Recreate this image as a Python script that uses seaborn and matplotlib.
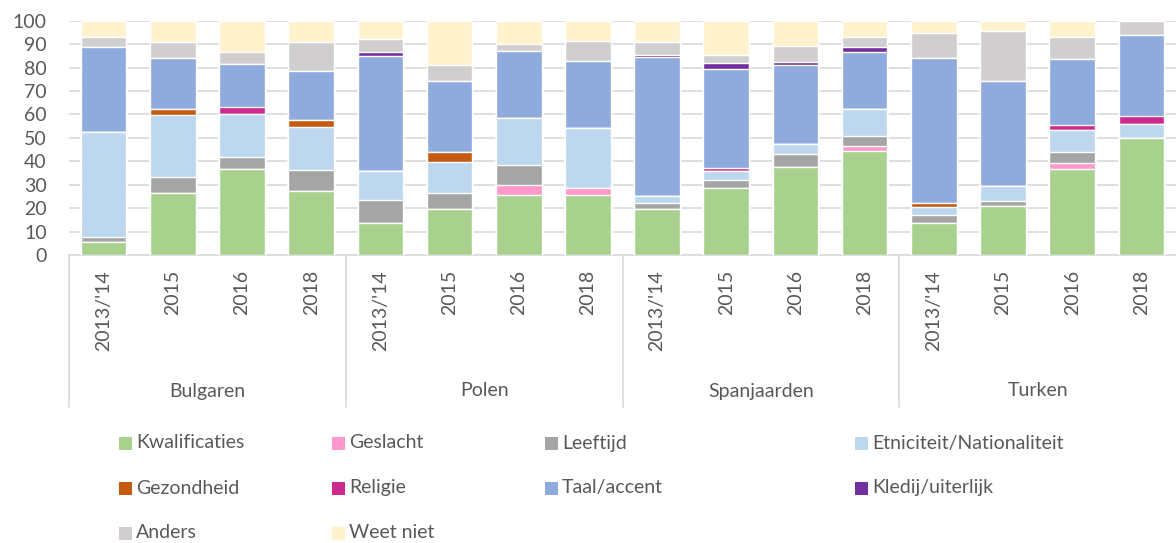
import numpy as np
import pandas as pd
import matplotlib
matplotlib.use('Agg')
import matplotlib.pyplot as plt
import matplotlib.transforms as mtransforms
from matplotlib.patches import Rectangle
import seaborn as sns

#%% data (percentages per bar)
groups = ['Bulgaren', 'Polen', 'Spanjaarden', 'Turken']
years = ["2013/'14", '2015', '2016', '2018']

categories = ['Kwalificaties', 'Geslacht', 'Leeftijd', 'Etniciteit/Nationaliteit',
              'Gezondheid', 'Religie', 'Taal/accent', 'Kledij/uiterlijk',
              'Anders', 'Weet niet']
colors = ['#A9D18E', '#FF99CC', '#A5A5A5', '#BDD7EE',
          '#C55A11', '#CC2A8E', '#8FAADC', '#7030A0',
          '#D0CECE', '#FFF2CC']

#                Bulgaren              Polen                  Spanjaarden            Turken
kwalificaties = [5.4, 26.5, 36.6, 27.2, 13.8, 19.6, 25.5, 25.5, 19.6, 28.7, 37.7, 44.2, 13.7, 21.1, 36.8, 49.8]
geslacht      = [0.0, 0.0, 0.0, 0.0,    0.0, 0.0, 4.4, 2.9,     0.0, 0.0, 0.0, 2.3,     0.0, 0.0, 2.3, 0.0]
leeftijd      = [2.4, 6.6, 5.4, 8.9,    9.5, 7.0, 8.5, 0.0,     2.7, 3.4, 5.3, 4.3,     3.5, 1.9, 4.9, 0.0]
etniciteit    = [44.8, 26.6, 18.3, 18.4, 12.4, 13.2, 20.2, 25.9, 2.9, 3.9, 4.2, 11.4,   3.4, 6.6, 9.3, 6.2]
gezondheid    = [0.0, 2.5, 0.0, 3.0,    0.0, 4.0, 0.0, 0.0,     0.0, 0.0, 0.0, 0.0,     1.7, 0.0, 0.0, 0.0]
religie       = [0.0, 0.0, 2.7, 0.0,    0.0, 0.0, 0.0, 0.0,     0.0, 1.3, 0.0, 0.0,     0.0, 0.0, 2.2, 3.2]
taal          = [36.3, 22.0, 18.4, 21.2, 49.4, 30.6, 28.6, 28.5, 59.4, 42.2, 34.0, 24.3, 61.9, 44.8, 28.0, 34.5]
kledij        = [0.0, 0.0, 0.0, 0.0,    1.7, 0.0, 0.0, 0.0,     0.9, 2.3, 1.3, 2.1,     0.0, 0.0, 0.0, 0.0]
anders        = [4.1, 6.8, 5.4, 12.1,   5.2, 6.8, 2.8, 8.7,     5.5, 3.5, 6.8, 4.4,     10.4, 21.3, 9.5, 6.3]
weet_niet     = [7.0, 9.0, 13.2, 9.2,   8.0, 18.8, 10.0, 8.5,   9.0, 14.7, 10.7, 7.0,   5.4, 4.3, 7.0, 0.0]

series = [kwalificaties, geslacht, leeftijd, etniciteit, gezondheid,
          religie, taal, kledij, anders, weet_niet]

bar_ids = [f'{g} {y}' for g in groups for y in years]
df = pd.DataFrame(dict(zip(categories, series)))
cum = df.cumsum(axis=1)
cum['bar'] = bar_ids

#%% style
sns.set_style('white')
plt.rcParams['font.family'] = ['Lato', 'DejaVu Sans']
txt_col = '#595959'
grid_col = '#D9D9D9'
fs = 14

fig = plt.figure(figsize=(11.76, 5.43), dpi=100)
H = 543.0
W = 1176.0
ax = fig.add_axes([69 / W, 1 - 255 / H, (1176 - 69) / W, (255 - 20.7) / H])

# stacked bars: draw cumulative totals from the top category down
for cat, col in reversed(list(zip(categories, colors))):
    sns.barplot(data=cum, x='bar', y=cat, order=bar_ids, color=col,
                saturation=1, width=0.66, ax=ax, zorder=3)

ax.set_xlim(-0.5, 15.5)
ax.set_ylim(0, 100)
ax.set_yticks(np.arange(0, 101, 10))
ax.yaxis.grid(True, color=grid_col, lw=1.2)
ax.set_axisbelow(True)
for s in ['left', 'top', 'right']:
    ax.spines[s].set_visible(False)
ax.spines['bottom'].set_color(grid_col)
ax.spines['bottom'].set_linewidth(1.2)
ax.tick_params(axis='y', length=0, labelcolor=txt_col, labelsize=fs, pad=16)
ax.tick_params(axis='x', length=0)
ax.set_xticklabels([])
ax.set_xlabel('')
ax.set_ylabel('')

# multi-level category axis
trans = mtransforms.blended_transform_factory(ax.transData, ax.transAxes)
y_year = (255 - 270) / (255 - 20.7)
y_group = (255 - 391) / (255 - 20.7)
y_sep = (255 - 407) / (255 - 20.7)
for i, lab in enumerate(bar_ids):
    ax.text(i, y_year, years[i % 4], rotation=90, ha='center', va='top',
            transform=trans, fontsize=fs, color=txt_col)
for g, name in enumerate(groups):
    ax.text(4 * g + 1.5, y_group, name, ha='center', va='center',
            transform=trans, fontsize=fs, color=txt_col)
for xs in [-0.5, 3.5, 7.5, 11.5]:
    ax.plot([xs, xs], [0, y_sep], transform=trans, color=grid_col,
            lw=1.2, clip_on=False)

# legend, laid out like the original in four columns
leg_x = [119, 332, 545, 855]
leg_y = [443, 488, 533]
for k, (cat, col) in enumerate(zip(categories, colors)):
    r, c = divmod(k, 4)
    x0 = leg_x[c]
    yc = leg_y[r]
    fig.add_artist(Rectangle((x0 / W, 1 - (yc + 6.5) / H), 13 / W, 13 / H,
                             transform=fig.transFigure, facecolor=col,
                             edgecolor='none'))
    fig.text((x0 + 17) / W, 1 - yc / H, cat, ha='left', va='center',
             fontsize=fs, color=txt_col)

plt.savefig('out.png', dpi=100)
